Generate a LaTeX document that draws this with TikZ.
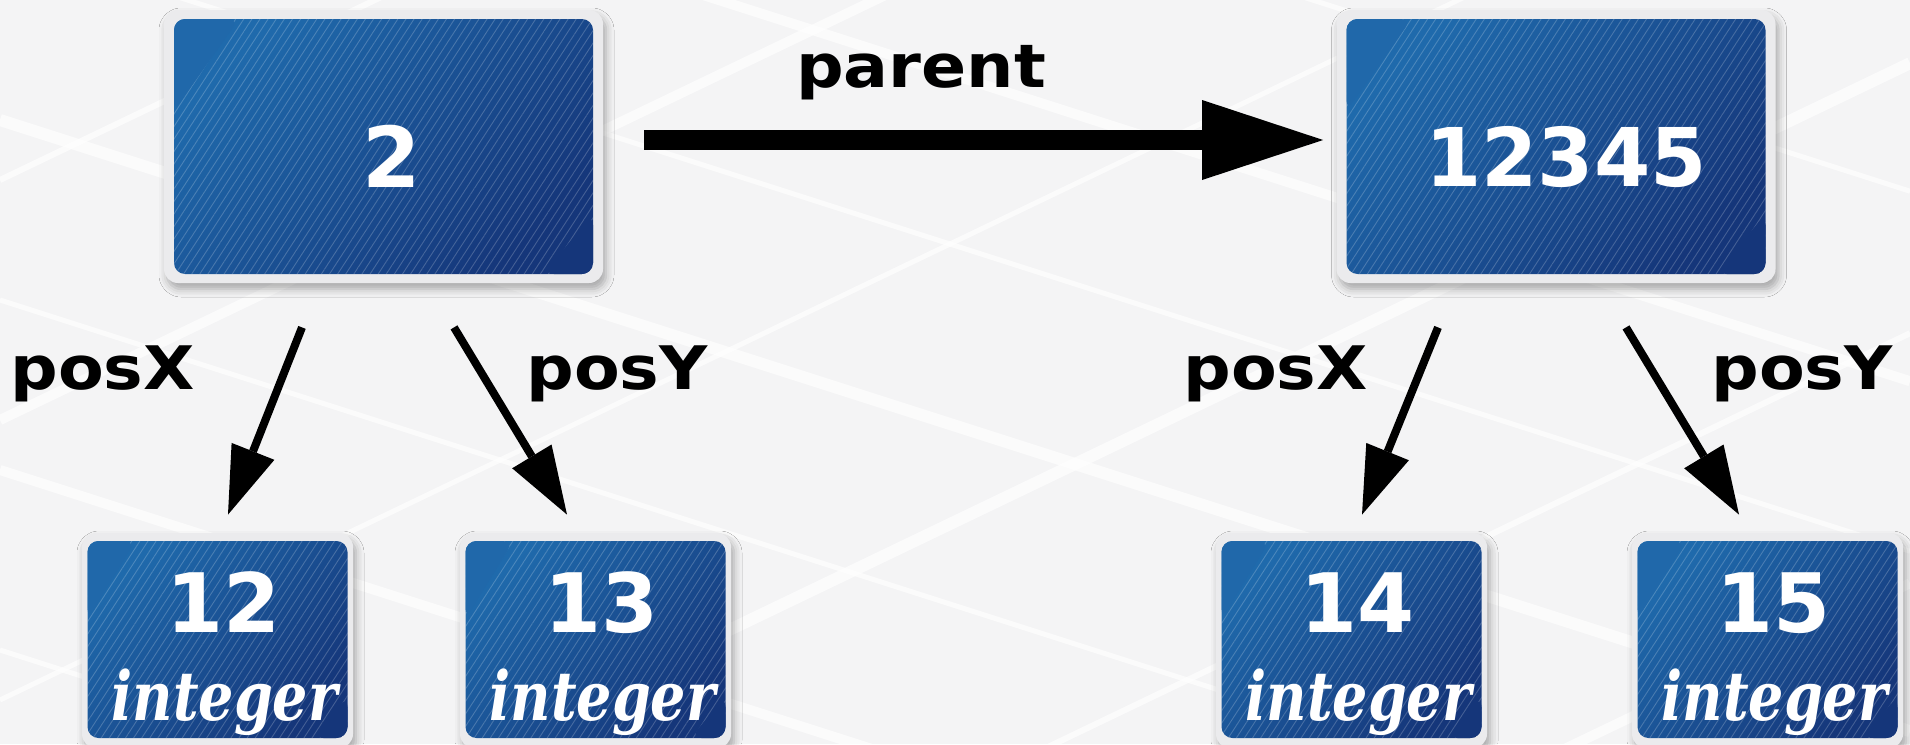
\documentclass[tikz,border=0pt]{standalone}
\usepackage{fontspec}
\usepackage{graphicx}
\setmainfont{DejaVu Sans}
\newfontfamily\serifit{DejaVu Serif}
\usetikzlibrary{arrows.meta,shadows.blur,patterns.meta,calc}
\definecolor{bgcol}{HTML}{F4F4F5}
\definecolor{rimcol}{HTML}{EBEBED}
\definecolor{blueA}{HTML}{1F6AAC}
\definecolor{blueB}{HTML}{15367A}
\definecolor{glosscol}{HTML}{2068AA}
\newcommand\glosshatch[4]{%
  \fill[pattern={Lines[angle=57,distance=3.4pt,line width=0.45pt]},pattern color=white,opacity=0.2]
    (path picture bounding box.south west) rectangle (path picture bounding box.north east);
  \fill[glosscol] (path picture bounding box.north west) -- ++(#1,0)
    -- ($(path picture bounding box.north west)+(0,#2)$) -- cycle;
  \fill[blueB] (path picture bounding box.south east) -- ++(-#3,0)
    -- ($(path picture bounding box.south east)+(0,-#4)$) -- cycle;}
\newcommand\lbltext[1]{\scalebox{1.11}[1]{#1}}
\tikzset{
  rimbox/.style={fill=rimcol,rounded corners=7pt,inner sep=0pt,
    blur shadow={shadow xshift=1.5pt,shadow yshift=-3pt,shadow blur radius=4pt,shadow opacity=32}},
  bigrim/.style={rimbox,minimum width=219.5pt,minimum height=136.5pt},
  smallrim/.style={rimbox,minimum width=135.5pt,minimum height=107.5pt},
  facebase/.style={rounded corners=5.5pt,inner sep=0pt,top color=blueA,bottom color=blueB,shading angle=45},
  bigface/.style={facebase,minimum width=209.5pt,minimum height=127.5pt,path picture={\glosshatch{65}{92}{50}{60}}},
  smallface/.style={facebase,minimum width=130pt,minimum height=98.5pt,path picture={\glosshatch{48}{78}{35}{42}}},
  bignum/.style={anchor=base,text=white,font=\fontsize{42}{48}\selectfont\bfseries,inner sep=0pt},
  smallnum/.style={anchor=base,text=white,font=\fontsize{41}{46}\selectfont\bfseries,inner sep=0pt},
  typelbl/.style={anchor=base,text=white,font=\serifit\bfseries\itshape\fontsize{34}{40}\selectfont,inner sep=0pt},
  edgelbl/.style={anchor=base west,text=black,font=\fontsize{30}{36}\selectfont\bfseries,inner sep=0pt},
  bigarrow/.style={line width=10pt,-{Triangle[length=60.5pt 0 0,width=40pt 0 0,line width=0pt 0 0]}},
  smallarrow/.style={line width=4pt,-{Triangle[length=34pt 0 0,width=23pt 0 0,line width=0pt 0 0]}},
  street/.style={white,line width=#1,opacity=0.65},
}
\begin{document}
\begin{tikzpicture}[x=0.5pt,y=-0.5pt]
\useasboundingbox (0,0) rectangle (1910,744);
\fill[bgcol] (0,0) rectangle (1910,744);
% background street map
\begin{scope}
\clip (0,0) rectangle (1910,744);
\foreach \c/\w in {-420/2.5pt,-230/5pt,-60/2.5pt,120/6pt,300/2.5pt,470/5pt,650/2.5pt}
  \draw[street=\w] (0,\c) -- (1910,{\c+0.32*1910});
\foreach \c/\w in {180/3pt,420/5pt,700/2.5pt,980/6pt,1250/3pt,1500/5pt,1750/2.5pt}
  \draw[street=\w] (0,\c) -- (1910,{\c-0.48*1910});
\end{scope}
% top boxes
\node[bigrim] (b2rim) at (383.5,146.5) {};
\node[bigface] (b2) at (383.5,146.5) {};
\node[bignum] (b2txt) at (392,187) {2};
\node[bigrim] (b12345rim) at (1556,146.5) {};
\node[bigface] (b12345) at (1556,146.5) {};
\node[bignum,font=\fontsize{40.5}{46}\selectfont\bfseries] (b12345txt) at (1566,186) {12345};
% bottom boxes
\foreach \nm/\cx/\num in {c12/217.5/12,c13/595.5/13,c14/1351.5/14,c15/1767.5/15}{
  \node[smallrim] (\nm rim) at (\cx,640.5) {};
  \node[smallface] (\nm) at (\cx,639.5) {};
  \node[smallnum] (\nm num) at (\cx+6,632) {\num};
  \node[typelbl] (\nm type) at (\cx+7,720) {\resizebox{113pt}{\height}{integer}};
}
% connectors
\coordinate (ps) at ($(b2rim.east)+(41,-6.5)$);
\coordinate (pe) at ($(b12345rim.west)+(-13,-6.5)$);
\draw[bigarrow] (ps) -- (pe);
\coordinate (s1) at ($(b2rim.south)+(-81.5,44)$);
\coordinate (t1) at ($(c12rim.north)+(10.5,-18)$);
\coordinate (s2) at ($(b2rim.south)+(70.5,44)$);
\coordinate (t2) at ($(c13rim.north)+(-28.5,-18)$);
\coordinate (s3) at ($(b12345rim.south)+(-118,44)$);
\coordinate (t3) at ($(c14rim.north)+(10.5,-18)$);
\coordinate (s4) at ($(b12345rim.south)+(70,44)$);
\coordinate (t4) at ($(c15rim.north)+(-28.5,-18)$);
\draw[smallarrow] (s1) -- (t1);
\draw[smallarrow] (s2) -- (t2);
\draw[smallarrow] (s3) -- (t3);
\draw[smallarrow] (s4) -- (t4);
% labels
\node[edgelbl,anchor=base] (lparent) at (921,87) {\lbltext{parent}};
\node[edgelbl] (lx1) at (10,389) {\lbltext{posX}};
\node[edgelbl] (ly1) at (526,389) {\lbltext{posY}};
\node[edgelbl] (lx2) at (1183,389) {\lbltext{posX}};
\node[edgelbl] (ly2) at (1711,389) {\lbltext{posY}};
\end{tikzpicture}
\end{document}
